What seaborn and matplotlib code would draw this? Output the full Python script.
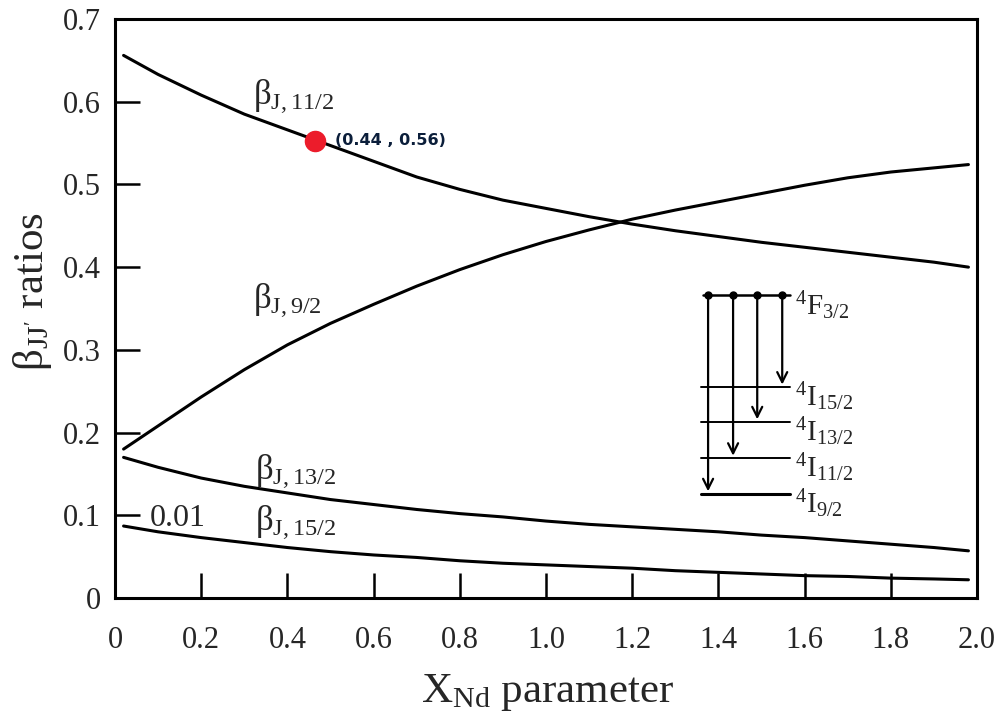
import numpy as np
import pandas as pd
import matplotlib
matplotlib.use("Agg")
import matplotlib.pyplot as plt
import seaborn as sns

# ---- data ----
x_vals = [0.02, 0.1, 0.2, 0.3, 0.4, 0.5, 0.6, 0.7, 0.8, 0.9, 1.0,
          1.1, 1.2, 1.3, 1.4, 1.5, 1.6, 1.7, 1.8, 1.9, 1.98]
beta_11_2 = [0.656, 0.633, 0.608, 0.585, 0.566, 0.547, 0.528, 0.509, 0.494, 0.481, 0.471,
             0.461, 0.452, 0.444, 0.437, 0.430, 0.424, 0.418, 0.412, 0.406, 0.400]
beta_9_2 = [0.180, 0.208, 0.243, 0.276, 0.306, 0.332, 0.355, 0.377, 0.397, 0.415, 0.431,
            0.445, 0.458, 0.469, 0.479, 0.489, 0.499, 0.508, 0.515, 0.520, 0.524]
beta_13_2 = [0.170, 0.158, 0.145, 0.135, 0.127, 0.119, 0.113, 0.107, 0.102, 0.098, 0.093,
             0.089, 0.086, 0.083, 0.080, 0.076, 0.073, 0.069, 0.065, 0.061, 0.057]
beta_15_2 = [0.087, 0.080, 0.073, 0.067, 0.061, 0.056, 0.052, 0.049, 0.045, 0.042, 0.040,
             0.038, 0.036, 0.033, 0.031, 0.029, 0.027, 0.026, 0.024, 0.023, 0.022]
series_names = ["11/2", "9/2", "13/2", "15/2"]

x_ticks = [0, 0.2, 0.4, 0.6, 0.8, 1.0, 1.2, 1.4, 1.6, 1.8, 2.0]
x_ticklabels = ["0", "0.2", "0.4", "0.6", "0.8", "1.0", "1.2", "1.4", "1.6", "1.8", "2.0"]
y_ticks = [0, 0.1, 0.2, 0.3, 0.4, 0.5, 0.6, 0.7]
y_ticklabels = ["0", "0.1", "0.2", "0.3", "0.4", "0.5", "0.6", "0.7"]

point_x, point_y = 0.465, 0.553
point_label = "(0.44 , 0.56)"

levels_y = [0.366, 0.255, 0.213, 0.169, 0.126]
level_names = ["F", "I", "I", "I", "I"]
level_j = ["3/2", "15/2", "13/2", "11/2", "9/2"]
arrow_x = [1.548, 1.49, 1.434, 1.376]

# ---- style ----
sns.set_style("ticks")
plt.rcParams["font.family"] = ["Liberation Serif", "DejaVu Serif"]
plt.rcParams["mathtext.fontset"] = "custom"
plt.rcParams["mathtext.rm"] = "Liberation Serif"
plt.rcParams["mathtext.it"] = "Liberation Serif:italic"

df = pd.DataFrame({
    "x": x_vals * 4,
    "y": beta_11_2 + beta_9_2 + beta_13_2 + beta_15_2,
    "s": sum([[n] * len(x_vals) for n in series_names], []),
})

fig = plt.figure(figsize=(9.97, 7.17), dpi=100)
ax = fig.add_axes([0.1153, 0.166, 0.8647, 0.8075])

sns.lineplot(data=df, x="x", y="y", units="s", estimator=None, color="black",
             linewidth=2.2, ax=ax, legend=False)

ax.set_xlim(0, 2.0)
ax.set_ylim(0, 0.7)
ax.set_xticks(x_ticks)
ax.set_xticklabels(x_ticklabels)
ax.set_yticks(y_ticks)
ax.set_yticklabels(y_ticklabels)
ax.tick_params(axis="both", direction="in", length=18, width=1.8, labelsize=22, color="black")
ax.tick_params(axis="x", pad=20)
ax.tick_params(axis="y", pad=10)
for sp in ax.spines.values():
    sp.set_linewidth(2.2)
    sp.set_color("black")

ax.set_xlabel(r"X$_{\mathrm{Nd}}$ parameter", fontsize=31, va="baseline")
ax.xaxis.set_label_coords(0.502, -0.18)
ax.set_ylabel(r"β$_{\mathrm{JJ'}}$ ratios", fontsize=31, va="baseline")
ax.yaxis.set_label_coords(-0.083, 0.53)

# curve labels
fs = 25
ax.text(0.32, 0.607, r"β$_{\mathrm{J,11/2}}$", fontsize=fs, va="center")
ax.text(0.32, 0.360, r"β$_{\mathrm{J,9/2}}$", fontsize=fs, va="center")
ax.text(0.325, 0.154, r"β$_{\mathrm{J,13/2}}$", fontsize=fs, va="center")
ax.text(0.325, 0.092, r"β$_{\mathrm{J,15/2}}$", fontsize=fs, va="center")
ax.text(0.081, 0.096, "0.01", fontsize=23, va="center")

# red point
ax.scatter([point_x], [point_y], s=210, color="#ec1c2b", zorder=5)
ax.text(point_x + 0.046, point_y, point_label, fontsize=11.5, fontweight="bold",
        family="DejaVu Sans", color="#0b1e3a", va="center")

# energy level inset
ax.plot([1.364, 1.566], [levels_y[0]] * 2, color="black", lw=1.8)
for ly, lw in zip(levels_y[1:], [1.4, 1.4, 1.4, 2.2]):
    ax.plot([1.36, 1.566], [ly, ly], color="black", lw=lw)
for axx, ly in zip(arrow_x, levels_y[1:]):
    ax.scatter([axx], [levels_y[0]], s=25, color="black", zorder=5)
    ax.annotate("", xy=(axx, ly + 0.003), xytext=(axx, levels_y[0]),
                arrowprops=dict(arrowstyle="->", color="black", lw=1.6,
                                mutation_scale=18, shrinkA=0, shrinkB=0))
for ly, nm, j in zip(levels_y, level_names, level_j):
    ax.text(1.578, ly - 0.012, r"$^{4}$" + nm + r"$_{\mathrm{" + j + r"}}$", fontsize=21, va="center")

fig.savefig("out.png", dpi=100)
